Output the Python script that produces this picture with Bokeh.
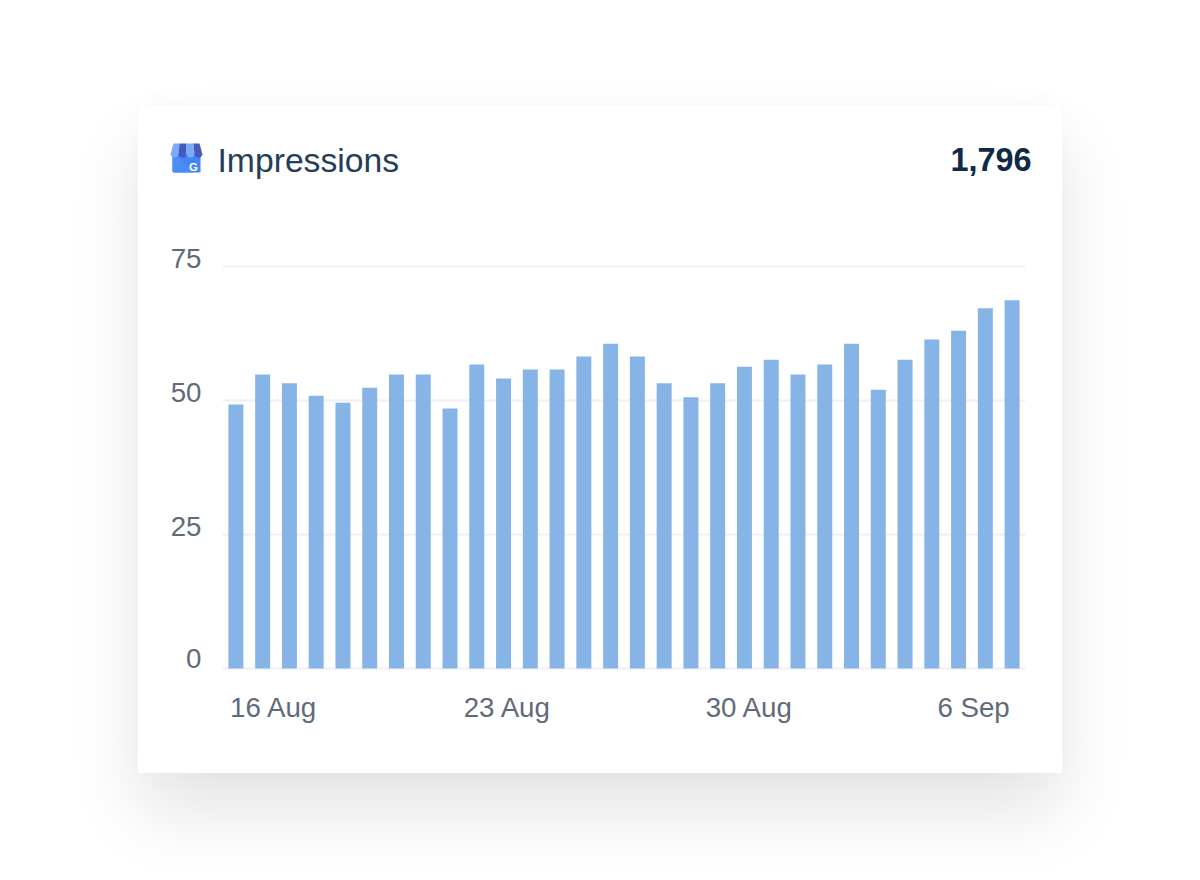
from bokeh.plotting import figure
from bokeh.embed import file_html
from bokeh.resources import INLINE
from bokeh.models import FixedTicker, Range1d
from bokeh.core.properties import value

values = [49.25, 54.85, 53.2, 50.9, 49.6, 52.4, 54.85, 54.85, 48.5, 56.7,
          54.1, 55.8, 55.8, 58.2, 60.6, 58.2, 53.2, 50.6, 53.2, 56.3,
          57.6, 54.85, 56.7, 60.6, 52.0, 57.6, 61.4, 63.0, 67.2, 68.7]
days = list(range(len(values)))
y_ticks = [0, 25, 50, 75]
y_tick_labels = ["0", "25", "50", "75"]
x_tick_pos = [1.42, 10.15, 19.19, 27.56]
x_tick_labels = ["16 Aug", "23 Aug", "30 Aug", "6 Sep"]
title = "Impressions"
total = "1,796"

CARD_L, CARD_T, CARD_W, CARD_H = 138, 106, 924, 667
CHART_T = 236
FR_L, FR_R, FR_T, FR_B = 222, 1025, CHART_T, 672
Y0_PX, Y75_PX = 668, 266
FONT = "Liberation Sans"
PX_PER_UNIT = (Y0_PX - Y75_PX) / 75


def Y(py):
    return (Y0_PX - py) / PX_PER_UNIT


# card background with header: its ranges are the page's pixels
h = figure(width=CARD_W, height=CARD_H, output_backend="svg", toolbar_location=None,
           x_range=Range1d(CARD_L, CARD_L + CARD_W), y_range=Range1d(CARD_T + CARD_H, CARD_T),
           x_axis_location=None, y_axis_location=None, min_border=0,
           outline_line_color=None, background_fill_color="white", border_fill_color="white",
           styles={"position": "absolute", "left": f"{CARD_L}px", "top": f"{CARD_T}px",
                   "box-shadow": "0 40px 70px rgba(0,0,0,0.105), 0 0 40px rgba(0,0,0,0.02)",
                   "border-radius": "4px"})
h.xgrid.visible = False
h.ygrid.visible = False


def add_text(x, y, text, size, color, align="left", style="normal", baseline="alphabetic"):
    h.text(x=[x], y=[y], text=[text], text_font=value(FONT), text_font_size=value(size),
           text_font_style=style, text_color=color, text_baseline=baseline, text_align=align)


def poly(pts, color):
    h.patch(x=[a for a, _ in pts], y=[b for _, b in pts], fill_color=color, line_color=None)


poly([(172, 153), (200, 153), (200, 171), (199, 172), (173, 172), (172, 171)], "#4285f4")
poly([(172, 157), (178, 157), (193, 172), (173, 172), (172, 171)], "#4a8df6")
poly([(173, 143), (179, 143), (178, 154), (176, 157), (172, 157), (170, 154)], "#7baaf7")
poly([(179, 143), (186, 143), (186, 154), (184, 157), (180, 157), (178, 154)], "#4659bd")
poly([(186, 143), (193, 143), (194, 154), (192, 157), (188, 157), (186, 154)], "#7baaf7")
poly([(193, 143), (199, 143), (202, 154), (200, 157), (196, 157), (194, 154)], "#4659bd")
add_text(193, 166, "G", "11.5px", "white", align="center", style="bold", baseline="middle")
add_text(217, 159, title, "33.7px", "#243e5a")
add_text(1031, 159, total, "32.4px", "#0f2a45", align="right", style="bold")

p = figure(width=CARD_W, height=CARD_T + CARD_H - FR_T, output_backend="svg", toolbar_location=None,
           x_range=Range1d(-0.5, 29.5), y_range=Range1d(Y(FR_B), Y(FR_T)),
           min_border_left=FR_L - CARD_L, min_border_right=CARD_L + CARD_W - FR_R,
           min_border_top=0, min_border_bottom=CARD_T + CARD_H - FR_B,
           outline_line_color=None, background_fill_color="white", border_fill_color="white",
           styles={"position": "absolute", "left": f"{CARD_L}px", "top": f"{FR_T}px",
                   "border-radius": "0 0 4px 4px"})

p.vbar(x=days, top=values, bottom=0, width=0.56, fill_color="#87b4e7", line_color=None)

p.xgrid.visible = False
p.ygrid.ticker = FixedTicker(ticks=y_ticks)
p.ygrid.grid_line_color = "#f0f0f5"
p.ygrid.grid_line_width = 2
p.ygrid.level = "underlay"

for ax in (p.xaxis[0], p.yaxis[0]):
    ax.axis_line_color = None
    ax.major_tick_line_color = None
    ax.minor_tick_line_color = None
    ax.major_label_text_font = FONT
    ax.major_label_text_font_size = "27.7px"
    ax.major_label_text_color = "#5f6b7a"

label_shift = [10 / PX_PER_UNIT, 8 / PX_PER_UNIT, 8 / PX_PER_UNIT, 8 / PX_PER_UNIT]
y_label_pos = [t + s for t, s in zip(y_ticks, label_shift)]
p.yaxis[0].ticker = FixedTicker(ticks=y_label_pos)
p.yaxis[0].major_label_overrides = dict(zip(y_label_pos, y_tick_labels))
p.yaxis[0].major_label_standoff = 15
p.xaxis[0].ticker = FixedTicker(ticks=x_tick_pos)
p.xaxis[0].major_label_overrides = dict(zip(x_tick_pos, x_tick_labels))
p.xaxis[0].major_label_standoff = 13

open("out.html", "w").write(file_html([h, p], INLINE))
